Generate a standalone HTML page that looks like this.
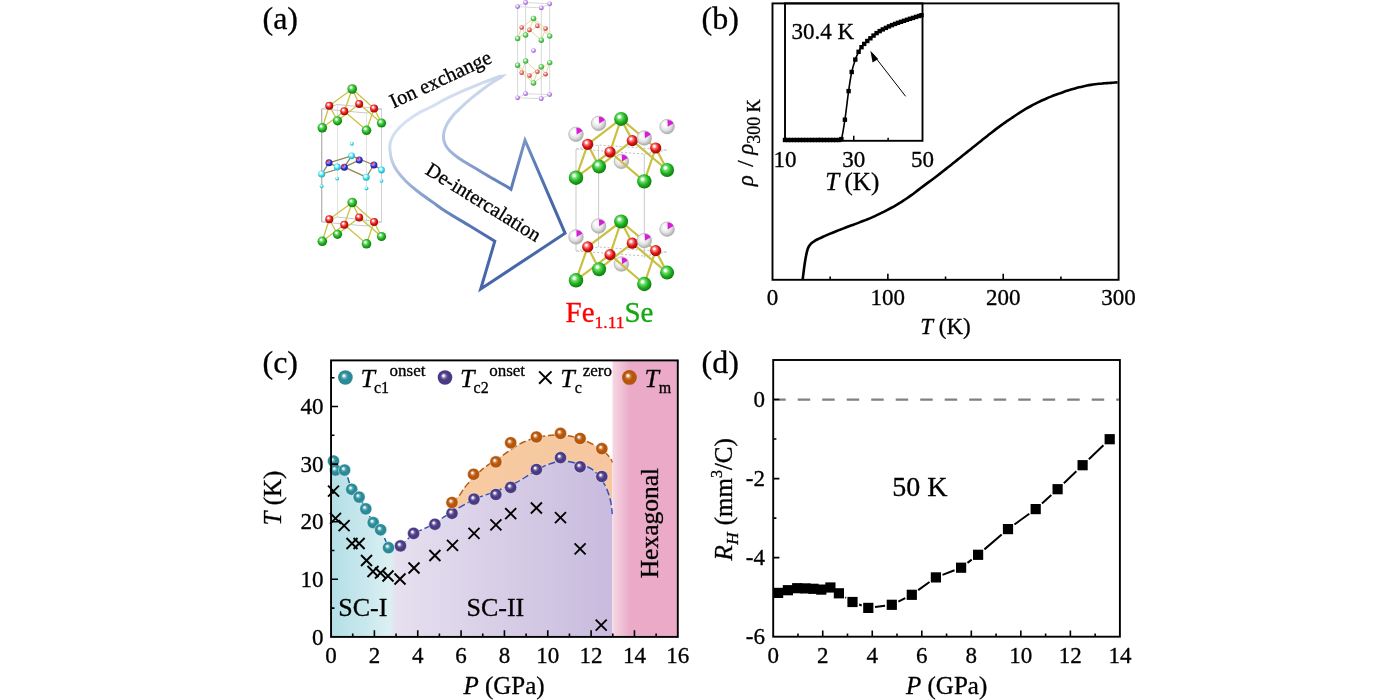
<!DOCTYPE html>
<html><head><meta charset="utf-8"><title>Figure</title><style>html,body{margin:0;padding:0;background:#fff;width:1400px;height:700px;overflow:hidden}svg{display:block;will-change:transform}text{stroke:#000;stroke-width:0.32px;stroke-linejoin:round}</style></head><body>
<svg width="1400" height="700" viewBox="0 0 1400 700" font-family='"Liberation Serif","Times New Roman",serif'><defs><radialGradient id="gTeal" cx="0.5" cy="0.5" r="0.55" fx="0.38" fy="0.36"><stop offset="0" stop-color="#ffffff"/><stop offset="0.1" stop-color="#f4f4f8"/><stop offset="0.3" stop-color="#5aaab4"/><stop offset="0.5" stop-color="#2a8b98"/><stop offset="0.88" stop-color="#2a8b98"/><stop offset="1" stop-color="#1d7280"/></radialGradient><radialGradient id="gPur" cx="0.5" cy="0.5" r="0.55" fx="0.38" fy="0.36"><stop offset="0" stop-color="#ffffff"/><stop offset="0.1" stop-color="#f4f4f8"/><stop offset="0.3" stop-color="#7a6caa"/><stop offset="0.5" stop-color="#4a3a83"/><stop offset="0.88" stop-color="#4a3a83"/><stop offset="1" stop-color="#38296c"/></radialGradient><radialGradient id="gOra" cx="0.5" cy="0.5" r="0.55" fx="0.38" fy="0.36"><stop offset="0" stop-color="#ffffff"/><stop offset="0.1" stop-color="#f4f4f8"/><stop offset="0.3" stop-color="#d08040"/><stop offset="0.5" stop-color="#b6560b"/><stop offset="0.88" stop-color="#b6560b"/><stop offset="1" stop-color="#964506"/></radialGradient><radialGradient id="gGrn" cx="0.45" cy="0.42" r="0.6" fx="0.36" fy="0.33"><stop offset="0" stop-color="#ffffff"/><stop offset="0.12" stop-color="#ffffff" stop-opacity="0.95"/><stop offset="0.3" stop-color="#70e070"/><stop offset="0.62" stop-color="#22b222"/><stop offset="1" stop-color="#0a760a"/></radialGradient><radialGradient id="gRed" cx="0.45" cy="0.42" r="0.6" fx="0.36" fy="0.33"><stop offset="0" stop-color="#ffffff"/><stop offset="0.12" stop-color="#ffffff" stop-opacity="0.95"/><stop offset="0.3" stop-color="#ff8080"/><stop offset="0.62" stop-color="#e01515"/><stop offset="1" stop-color="#990606"/></radialGradient><radialGradient id="gBlu" cx="0.45" cy="0.42" r="0.6" fx="0.36" fy="0.33"><stop offset="0" stop-color="#ffffff"/><stop offset="0.12" stop-color="#ffffff" stop-opacity="0.95"/><stop offset="0.3" stop-color="#9090ff"/><stop offset="0.62" stop-color="#3232c8"/><stop offset="1" stop-color="#1a1a90"/></radialGradient><radialGradient id="gCyn" cx="0.45" cy="0.42" r="0.6" fx="0.36" fy="0.33"><stop offset="0" stop-color="#ffffff"/><stop offset="0.12" stop-color="#ffffff" stop-opacity="0.95"/><stop offset="0.3" stop-color="#b0ffff"/><stop offset="0.62" stop-color="#40d8e6"/><stop offset="1" stop-color="#20a8b8"/></radialGradient><radialGradient id="gWht" cx="0.45" cy="0.42" r="0.6" fx="0.36" fy="0.33"><stop offset="0" stop-color="#ffffff"/><stop offset="0.12" stop-color="#ffffff" stop-opacity="0.95"/><stop offset="0.3" stop-color="#f8f8f8"/><stop offset="0.62" stop-color="#e2e2e2"/><stop offset="1" stop-color="#a6a6a6"/></radialGradient><radialGradient id="gVio" cx="0.45" cy="0.42" r="0.6" fx="0.36" fy="0.33"><stop offset="0" stop-color="#ffffff"/><stop offset="0.12" stop-color="#ffffff" stop-opacity="0.95"/><stop offset="0.3" stop-color="#ecd4ff"/><stop offset="0.62" stop-color="#bb86e6"/><stop offset="1" stop-color="#9058c0"/></radialGradient><radialGradient id="gGrnL" cx="0.45" cy="0.42" r="0.6" fx="0.36" fy="0.33"><stop offset="0" stop-color="#ffffff"/><stop offset="0.12" stop-color="#ffffff" stop-opacity="0.95"/><stop offset="0.3" stop-color="#a8eca8"/><stop offset="0.62" stop-color="#5cc85c"/><stop offset="1" stop-color="#2f9a2f"/></radialGradient><radialGradient id="gRedL" cx="0.45" cy="0.42" r="0.6" fx="0.36" fy="0.33"><stop offset="0" stop-color="#ffffff"/><stop offset="0.12" stop-color="#ffffff" stop-opacity="0.95"/><stop offset="0.3" stop-color="#ffb0b0"/><stop offset="0.62" stop-color="#e86060"/><stop offset="1" stop-color="#b83030"/></radialGradient><linearGradient id="lgCyan" x1="331" x2="394" y1="0" y2="0" gradientUnits="userSpaceOnUse"><stop offset="0" stop-color="#b3dfe6"/><stop offset="0.55" stop-color="#c9e8ed"/><stop offset="0.93" stop-color="#dcf0f3"/><stop offset="1" stop-color="#e0e8f0"/></linearGradient><linearGradient id="lgLav" x1="394" x2="612" y1="0" y2="0" gradientUnits="userSpaceOnUse"><stop offset="0" stop-color="#e6e0ef"/><stop offset="1" stop-color="#c8bbde"/></linearGradient><linearGradient id="lgOra" x1="450" x2="612" y1="0" y2="0" gradientUnits="userSpaceOnUse"><stop offset="0" stop-color="#f8cba2"/><stop offset="1" stop-color="#f6c7a0"/></linearGradient><linearGradient id="lgPink" x1="612.5" x2="630" y1="0" y2="0" gradientUnits="userSpaceOnUse"><stop offset="0" stop-color="#f6d8e4"/><stop offset="1" stop-color="#eaaac8"/></linearGradient><linearGradient id="lgArrow" x1="420" y1="100" x2="510" y2="230" gradientUnits="userSpaceOnUse"><stop offset="0" stop-color="#dde6f5"/><stop offset="0.15" stop-color="#ccd8ee"/><stop offset="0.4" stop-color="#9cb0d8"/><stop offset="0.73" stop-color="#6080bb"/><stop offset="1" stop-color="#4667a9"/></linearGradient><marker id="ah" viewBox="0 0 10 10" refX="9" refY="5" markerWidth="12" markerHeight="7" markerUnits="userSpaceOnUse" orient="auto"><path d="M0,0 L10,5 L0,10 z" fill="#000"/></marker></defs>
<text x="262.5" y="28.8" font-size="32" text-anchor="start" fill="#000" >(a)</text>
<g stroke-width="1" fill="none"><path d="M321.7,108.8 L321.7,222" stroke="#b4b4b4" stroke-width="1.3"/><path d="M381.5,108.8 L381.5,222" stroke="#d0d0d0"/><path d="M366.5,113 L366.5,226 M337.5,104.5 L337.5,217" stroke="#e2e2e2"/><path d="M321.7,108.8 L337.5,104.5 L381.5,108.8 L366.5,113 Z M321.7,222 L337.5,217 L381.5,222 L366.5,226 Z" stroke="#c8c8c8"/></g><line x1="352.2" y1="89" x2="329.3" y2="105.8" stroke="#c9c245" stroke-width="1.3" /><line x1="352.2" y1="89" x2="344.3" y2="111.3" stroke="#c9c245" stroke-width="1.3" /><line x1="352.2" y1="89" x2="359.2" y2="103.9" stroke="#c9c245" stroke-width="1.3" /><line x1="352.2" y1="89" x2="374.1" y2="108.5" stroke="#c9c245" stroke-width="1.3" /><line x1="329.3" y1="105.8" x2="322.3" y2="127.8" stroke="#c9c245" stroke-width="1.3" /><line x1="329.3" y1="105.8" x2="337.5" y2="120.8" stroke="#c9c245" stroke-width="1.3" /><line x1="344.3" y1="111.3" x2="322.3" y2="127.8" stroke="#c9c245" stroke-width="1.3" /><line x1="344.3" y1="111.3" x2="366.5" y2="130.3" stroke="#c9c245" stroke-width="1.3" /><line x1="359.2" y1="103.9" x2="337.5" y2="120.8" stroke="#c9c245" stroke-width="1.3" /><line x1="359.2" y1="103.9" x2="381.5" y2="123" stroke="#c9c245" stroke-width="1.3" /><line x1="374.1" y1="108.5" x2="366.5" y2="130.3" stroke="#c9c245" stroke-width="1.3" /><line x1="374.1" y1="108.5" x2="381.5" y2="123" stroke="#c9c245" stroke-width="1.3" /><circle cx="337.5" cy="120.8" r="4.6" fill="url(#gGrn)"/><circle cx="381.5" cy="123" r="4.6" fill="url(#gGrn)"/><circle cx="329.3" cy="105.8" r="4" fill="url(#gRed)"/><circle cx="344.3" cy="111.3" r="4" fill="url(#gRed)"/><circle cx="359.2" cy="103.9" r="4" fill="url(#gRed)"/><circle cx="374.1" cy="108.5" r="4" fill="url(#gRed)"/><circle cx="352.2" cy="89" r="4.8" fill="url(#gGrn)"/><circle cx="322.3" cy="127.8" r="4.8" fill="url(#gGrn)"/><circle cx="366.5" cy="130.3" r="4.8" fill="url(#gGrn)"/><line x1="352.2" y1="202.5" x2="329.3" y2="219.3" stroke="#c9c245" stroke-width="1.3" /><line x1="352.2" y1="202.5" x2="344.3" y2="224.8" stroke="#c9c245" stroke-width="1.3" /><line x1="352.2" y1="202.5" x2="359.2" y2="217.4" stroke="#c9c245" stroke-width="1.3" /><line x1="352.2" y1="202.5" x2="374.1" y2="222" stroke="#c9c245" stroke-width="1.3" /><line x1="329.3" y1="219.3" x2="322.3" y2="241.3" stroke="#c9c245" stroke-width="1.3" /><line x1="329.3" y1="219.3" x2="337.5" y2="234.3" stroke="#c9c245" stroke-width="1.3" /><line x1="344.3" y1="224.8" x2="322.3" y2="241.3" stroke="#c9c245" stroke-width="1.3" /><line x1="344.3" y1="224.8" x2="366.5" y2="243.8" stroke="#c9c245" stroke-width="1.3" /><line x1="359.2" y1="217.4" x2="337.5" y2="234.3" stroke="#c9c245" stroke-width="1.3" /><line x1="359.2" y1="217.4" x2="381.5" y2="236.5" stroke="#c9c245" stroke-width="1.3" /><line x1="374.1" y1="222" x2="366.5" y2="243.8" stroke="#c9c245" stroke-width="1.3" /><line x1="374.1" y1="222" x2="381.5" y2="236.5" stroke="#c9c245" stroke-width="1.3" /><circle cx="337.5" cy="234.3" r="4.6" fill="url(#gGrn)"/><circle cx="381.5" cy="236.5" r="4.6" fill="url(#gGrn)"/><circle cx="329.3" cy="219.3" r="4" fill="url(#gRed)"/><circle cx="344.3" cy="224.8" r="4" fill="url(#gRed)"/><circle cx="359.2" cy="217.4" r="4" fill="url(#gRed)"/><circle cx="374.1" cy="222" r="4" fill="url(#gRed)"/><circle cx="352.2" cy="202.5" r="4.8" fill="url(#gGrn)"/><circle cx="322.3" cy="241.3" r="4.8" fill="url(#gGrn)"/><circle cx="366.5" cy="243.8" r="4.8" fill="url(#gGrn)"/><line x1="329" y1="162.8" x2="351.6" y2="155.8" stroke="#8c8a58" stroke-width="1.3" /><line x1="321.7" y1="174" x2="329" y2="162.8" stroke="#8c8a58" stroke-width="1.3" /><line x1="321.7" y1="174" x2="344.3" y2="167.2" stroke="#8c8a58" stroke-width="1.3" /><line x1="344.3" y1="167.2" x2="351.6" y2="155.8" stroke="#8c8a58" stroke-width="1.3" /><line x1="344.3" y1="167.2" x2="366.2" y2="177.2" stroke="#8c8a58" stroke-width="1.3" /><line x1="351.6" y1="155.8" x2="373.9" y2="165" stroke="#8c8a58" stroke-width="1.3" /><line x1="344.3" y1="167.2" x2="359.2" y2="160.1" stroke="#8c8a58" stroke-width="1.3" /><line x1="366.2" y1="177.2" x2="373.9" y2="165" stroke="#8c8a58" stroke-width="1.3" /><line x1="329" y1="162.8" x2="337.2" y2="167" stroke="#8c8a58" stroke-width="1.3" /><line x1="373.9" y1="165" x2="381.5" y2="170" stroke="#8c8a58" stroke-width="1.3" /><circle cx="351.9" cy="143.8" r="2" fill="url(#gCyn)"/><circle cx="351.6" cy="155.8" r="3.4" fill="url(#gCyn)"/><circle cx="337.2" cy="167" r="3.4" fill="url(#gCyn)"/><circle cx="381.5" cy="170" r="3.4" fill="url(#gCyn)"/><circle cx="329" cy="162.8" r="3.5" fill="url(#gBlu)"/><path d="M329,162.8 L328.4,159.6 A3.2,3.2 0 0 0 326,161.6 Z" fill="#e82020"/><circle cx="344.3" cy="167.2" r="3.5" fill="url(#gBlu)"/><path d="M344.3,167.2 L343.7,164 A3.2,3.2 0 0 0 341.3,166 Z" fill="#e82020"/><circle cx="359.2" cy="160.1" r="3.5" fill="url(#gBlu)"/><path d="M359.2,160.1 L358.6,156.9 A3.2,3.2 0 0 0 356.2,158.9 Z" fill="#e82020"/><circle cx="373.9" cy="165" r="3.5" fill="url(#gBlu)"/><path d="M373.9,165 L373.3,161.8 A3.2,3.2 0 0 0 370.9,163.8 Z" fill="#e82020"/><circle cx="321.7" cy="174" r="3.5" fill="url(#gCyn)"/><circle cx="366.2" cy="177.2" r="3.5" fill="url(#gCyn)"/><circle cx="337.2" cy="178.6" r="1.9" fill="url(#gCyn)"/><circle cx="321.7" cy="186.2" r="1.9" fill="url(#gCyn)"/><circle cx="366.5" cy="188.4" r="1.9" fill="url(#gCyn)"/><circle cx="381.5" cy="180.8" r="1.9" fill="url(#gCyn)"/>
<g stroke="#d8d8d8" stroke-width="1" fill="none"><path d="M517.6,6.6 L517.6,97.8 M525.6,2.5 L525.6,93.7 M541.3,7.9 L541.3,98.7 M549.7,3.8 L549.7,94.6"/><path d="M517.6,6.6 L525.6,2.5 L549.7,3.8 L541.3,7.9 Z M517.6,97.8 L525.6,93.7 L549.7,94.6 L541.3,98.7 Z"/></g><line x1="533.5" y1="18.5" x2="521.7" y2="27.5" stroke="#d8d080" stroke-width="0.8" /><line x1="533.5" y1="18.5" x2="529.5" y2="29.9" stroke="#d8d080" stroke-width="0.8" /><line x1="533.5" y1="18.5" x2="537.4" y2="25.9" stroke="#d8d080" stroke-width="0.8" /><line x1="533.5" y1="18.5" x2="545.6" y2="28.6" stroke="#d8d080" stroke-width="0.8" /><line x1="521.7" y1="27.5" x2="517.6" y2="38.5" stroke="#d8d080" stroke-width="0.8" /><line x1="521.7" y1="27.5" x2="525.6" y2="35" stroke="#d8d080" stroke-width="0.8" /><line x1="529.5" y1="29.9" x2="517.6" y2="38.5" stroke="#d8d080" stroke-width="0.8" /><line x1="529.5" y1="29.9" x2="541.3" y2="40.2" stroke="#d8d080" stroke-width="0.8" /><line x1="537.4" y1="25.9" x2="525.6" y2="35" stroke="#d8d080" stroke-width="0.8" /><line x1="537.4" y1="25.9" x2="549.7" y2="36.1" stroke="#d8d080" stroke-width="0.8" /><line x1="545.6" y1="28.6" x2="541.3" y2="40.2" stroke="#d8d080" stroke-width="0.8" /><line x1="545.6" y1="28.6" x2="549.7" y2="36.1" stroke="#d8d080" stroke-width="0.8" /><circle cx="517.6" cy="38.5" r="2.7" fill="url(#gGrnL)"/><circle cx="525.6" cy="35" r="2.7" fill="url(#gGrnL)"/><circle cx="541.3" cy="40.2" r="2.7" fill="url(#gGrnL)"/><circle cx="549.7" cy="36.1" r="2.7" fill="url(#gGrnL)"/><circle cx="521.7" cy="27.5" r="2.3" fill="url(#gRedL)"/><circle cx="529.5" cy="29.9" r="2.3" fill="url(#gRedL)"/><circle cx="537.4" cy="25.9" r="2.3" fill="url(#gRedL)"/><circle cx="545.6" cy="28.6" r="2.3" fill="url(#gRedL)"/><circle cx="533.5" cy="18.5" r="2.8" fill="url(#gGrnL)"/><line x1="533.5" y1="83" x2="521.7" y2="72.8" stroke="#d8d080" stroke-width="0.8" /><line x1="533.5" y1="83" x2="529.5" y2="75.6" stroke="#d8d080" stroke-width="0.8" /><line x1="533.5" y1="83" x2="537.4" y2="71.8" stroke="#d8d080" stroke-width="0.8" /><line x1="533.5" y1="83" x2="545.6" y2="74.2" stroke="#d8d080" stroke-width="0.8" /><line x1="521.7" y1="72.8" x2="517.6" y2="65.2" stroke="#d8d080" stroke-width="0.8" /><line x1="521.7" y1="72.8" x2="525.6" y2="61" stroke="#d8d080" stroke-width="0.8" /><line x1="529.5" y1="75.6" x2="517.6" y2="65.2" stroke="#d8d080" stroke-width="0.8" /><line x1="529.5" y1="75.6" x2="541.3" y2="66.8" stroke="#d8d080" stroke-width="0.8" /><line x1="537.4" y1="71.8" x2="525.6" y2="61" stroke="#d8d080" stroke-width="0.8" /><line x1="537.4" y1="71.8" x2="549.7" y2="62.6" stroke="#d8d080" stroke-width="0.8" /><line x1="545.6" y1="74.2" x2="541.3" y2="66.8" stroke="#d8d080" stroke-width="0.8" /><line x1="545.6" y1="74.2" x2="549.7" y2="62.6" stroke="#d8d080" stroke-width="0.8" /><circle cx="517.6" cy="65.2" r="2.7" fill="url(#gGrnL)"/><circle cx="525.6" cy="61" r="2.7" fill="url(#gGrnL)"/><circle cx="541.3" cy="66.8" r="2.7" fill="url(#gGrnL)"/><circle cx="549.7" cy="62.6" r="2.7" fill="url(#gGrnL)"/><circle cx="521.7" cy="72.8" r="2.3" fill="url(#gRedL)"/><circle cx="529.5" cy="75.6" r="2.3" fill="url(#gRedL)"/><circle cx="537.4" cy="71.8" r="2.3" fill="url(#gRedL)"/><circle cx="545.6" cy="74.2" r="2.3" fill="url(#gRedL)"/><circle cx="533.5" cy="83" r="2.8" fill="url(#gGrnL)"/><circle cx="517.6" cy="6.6" r="2.4" fill="url(#gVio)"/><circle cx="525.6" cy="2.5" r="2.4" fill="url(#gVio)"/><circle cx="541.3" cy="7.9" r="2.4" fill="url(#gVio)"/><circle cx="549.7" cy="3.8" r="2.4" fill="url(#gVio)"/><circle cx="533.5" cy="50.6" r="2.4" fill="url(#gVio)"/><circle cx="517.6" cy="97.8" r="2.4" fill="url(#gVio)"/><circle cx="525.6" cy="93.7" r="2.4" fill="url(#gVio)"/><circle cx="541.3" cy="98.7" r="2.4" fill="url(#gVio)"/><circle cx="549.7" cy="94.6" r="2.4" fill="url(#gVio)"/>
<path d="M502,76.3 C501.18,76.43 500.05,76.12 497.1,77.1 C494.15,78.08 488.58,80.48 484.3,82.2 C480.02,83.92 475.68,85.63 471.4,87.4 C467.12,89.17 462.88,90.88 458.6,92.8 C454.32,94.72 449.98,96.7 445.7,98.9 C441.42,101.1 437.23,103.75 432.9,106 C428.57,108.25 424.28,109.72 419.7,112.4 C415.12,115.08 409.45,118.82 405.4,122.1 C401.35,125.38 397.9,128.77 395.4,132.1 C392.9,135.43 391.3,139 390.4,142.1 C389.5,145.2 389.75,147.6 390,150.7 C390.25,153.8 390.75,157.37 391.9,160.7 C393.05,164.03 394.65,167.37 396.9,170.7 C399.15,174.03 402.07,177.37 405.4,180.7 C408.73,184.03 412.37,187.13 416.9,190.7 C421.43,194.27 427.58,198.5 432.6,202.1 C437.62,205.7 440.77,208.32 447,212.3 C453.23,216.28 462.03,221.18 470,226 C477.97,230.82 490.67,238.67 494.8,241.2 L480.7,289 L565.1,233.3 L525,140.2 L511,189.3 C510,188.58 508.5,187.53 505,185.5 C501.5,183.47 495,179.92 490,177 C485,174.08 480,171 475,168 C470,165 464.17,161.83 460,159 C455.83,156.17 452.5,153.5 450,151 C447.5,148.5 446.08,146.67 445,144 C443.92,141.33 443.25,138.17 443.5,135 C443.75,131.83 444.85,128.33 446.5,125 C448.15,121.67 451.38,117.53 453.4,115 C455.42,112.47 456.13,112.17 458.6,109.8 C461.07,107.43 465,103.58 468.2,100.8 C471.4,98.02 474.05,95.98 477.8,93.1 C481.55,90.22 486.95,86.07 490.7,83.5 C494.45,80.93 498.42,78.9 500.3,77.7 C502.18,76.5 501.72,76.53 502,76.3 Z" fill="none" stroke="url(#lgArrow)" stroke-width="3" stroke-linejoin="miter"/>
<text x="0" y="0" font-size="20.5" text-anchor="start" fill="#000" transform="translate(393.5,108.5) rotate(-25)">Ion exchange</text>
<text x="0" y="0" font-size="20.2" text-anchor="start" fill="#000" transform="translate(424.3,173.2) rotate(31.8)">De-intercalation</text>
<g stroke="#bdbdbd" stroke-width="1" fill="none"><path d="M576,149 L576,251 M644.3,154 L644.3,258 M598.6,145 L598.6,247" stroke-opacity="0.8"/><path d="M576,149 L598.6,145 L667.1,150 L644.3,154 Z" stroke-dasharray="2 2"/><path d="M576,251 L598.6,247 L667.1,252 L644.3,256 Z" stroke-dasharray="2 2"/></g><circle cx="598.6" cy="123.4" r="7.3" fill="url(#gWht)" stroke="#a8a8a8" stroke-width="0.6"/><path d="M599.2,123.6 L598.96,116.82 A6.79,6.79 0 0 1 604.96,120 Z" fill="#d81cd8"/><circle cx="576" cy="134.3" r="7.3" fill="url(#gWht)" stroke="#a8a8a8" stroke-width="0.6"/><path d="M576.6,134.5 L576.36,127.72 A6.79,6.79 0 0 1 582.36,130.9 Z" fill="#d81cd8"/><circle cx="667.1" cy="126.6" r="7.3" fill="url(#gWht)" stroke="#a8a8a8" stroke-width="0.6"/><path d="M667.7,126.8 L667.46,120.02 A6.79,6.79 0 0 1 673.46,123.2 Z" fill="#d81cd8"/><circle cx="621.4" cy="161.4" r="7.3" fill="url(#gWht)" stroke="#a8a8a8" stroke-width="0.6"/><path d="M622,161.6 L621.76,154.82 A6.79,6.79 0 0 1 627.76,158 Z" fill="#d81cd8"/><line x1="621.1" y1="118.9" x2="587.7" y2="144.3" stroke="#c8c040" stroke-width="2.2" /><line x1="621.1" y1="118.9" x2="610" y2="152" stroke="#c8c040" stroke-width="2.2" /><line x1="621.1" y1="118.9" x2="632.3" y2="140.6" stroke="#c8c040" stroke-width="2.2" /><line x1="621.1" y1="118.9" x2="655.7" y2="148" stroke="#c8c040" stroke-width="2.2" /><line x1="587.7" y1="144.3" x2="576" y2="177.7" stroke="#c8c040" stroke-width="2.2" /><line x1="587.7" y1="144.3" x2="599.1" y2="166.6" stroke="#c8c040" stroke-width="2.2" /><line x1="610" y1="152" x2="576" y2="177.7" stroke="#c8c040" stroke-width="2.2" /><line x1="610" y1="152" x2="644.3" y2="181.4" stroke="#c8c040" stroke-width="2.2" /><line x1="632.3" y1="140.6" x2="599.1" y2="166.6" stroke="#c8c040" stroke-width="2.2" /><line x1="632.3" y1="140.6" x2="667.1" y2="170" stroke="#c8c040" stroke-width="2.2" /><line x1="655.7" y1="148" x2="644.3" y2="181.4" stroke="#c8c040" stroke-width="2.2" /><line x1="655.7" y1="148" x2="667.1" y2="170" stroke="#c8c040" stroke-width="2.2" /><circle cx="599.1" cy="166.6" r="7" fill="url(#gGrn)"/><circle cx="667.1" cy="170" r="7" fill="url(#gGrn)"/><circle cx="621.1" cy="118.9" r="7" fill="url(#gGrn)"/><circle cx="587.7" cy="144.3" r="5.6" fill="url(#gRed)"/><circle cx="610" cy="152" r="5.6" fill="url(#gRed)"/><circle cx="632.3" cy="140.6" r="5.6" fill="url(#gRed)"/><circle cx="655.7" cy="148" r="5.6" fill="url(#gRed)"/><circle cx="644.3" cy="138" r="7.3" fill="url(#gWht)" stroke="#a8a8a8" stroke-width="0.6"/><path d="M644.9,138.2 L644.66,131.42 A6.79,6.79 0 0 1 650.66,134.6 Z" fill="#d81cd8"/><circle cx="576" cy="177.7" r="7.2" fill="url(#gGrn)"/><circle cx="644.3" cy="181.4" r="7.2" fill="url(#gGrn)"/><circle cx="598.6" cy="226" r="7.3" fill="url(#gWht)" stroke="#a8a8a8" stroke-width="0.6"/><path d="M599.2,226.2 L598.96,219.42 A6.79,6.79 0 0 1 604.96,222.6 Z" fill="#d81cd8"/><circle cx="576" cy="236.9" r="7.3" fill="url(#gWht)" stroke="#a8a8a8" stroke-width="0.6"/><path d="M576.6,237.1 L576.36,230.32 A6.79,6.79 0 0 1 582.36,233.5 Z" fill="#d81cd8"/><circle cx="667.1" cy="229.2" r="7.3" fill="url(#gWht)" stroke="#a8a8a8" stroke-width="0.6"/><path d="M667.7,229.4 L667.46,222.62 A6.79,6.79 0 0 1 673.46,225.8 Z" fill="#d81cd8"/><circle cx="621.4" cy="264" r="7.3" fill="url(#gWht)" stroke="#a8a8a8" stroke-width="0.6"/><path d="M622,264.2 L621.76,257.42 A6.79,6.79 0 0 1 627.76,260.6 Z" fill="#d81cd8"/><line x1="621.1" y1="221.5" x2="587.7" y2="246.9" stroke="#c8c040" stroke-width="2.2" /><line x1="621.1" y1="221.5" x2="610" y2="254.6" stroke="#c8c040" stroke-width="2.2" /><line x1="621.1" y1="221.5" x2="632.3" y2="243.2" stroke="#c8c040" stroke-width="2.2" /><line x1="621.1" y1="221.5" x2="655.7" y2="250.6" stroke="#c8c040" stroke-width="2.2" /><line x1="587.7" y1="246.9" x2="576" y2="280.3" stroke="#c8c040" stroke-width="2.2" /><line x1="587.7" y1="246.9" x2="599.1" y2="269.2" stroke="#c8c040" stroke-width="2.2" /><line x1="610" y1="254.6" x2="576" y2="280.3" stroke="#c8c040" stroke-width="2.2" /><line x1="610" y1="254.6" x2="644.3" y2="284" stroke="#c8c040" stroke-width="2.2" /><line x1="632.3" y1="243.2" x2="599.1" y2="269.2" stroke="#c8c040" stroke-width="2.2" /><line x1="632.3" y1="243.2" x2="667.1" y2="272.6" stroke="#c8c040" stroke-width="2.2" /><line x1="655.7" y1="250.6" x2="644.3" y2="284" stroke="#c8c040" stroke-width="2.2" /><line x1="655.7" y1="250.6" x2="667.1" y2="272.6" stroke="#c8c040" stroke-width="2.2" /><circle cx="599.1" cy="269.2" r="7" fill="url(#gGrn)"/><circle cx="667.1" cy="272.6" r="7" fill="url(#gGrn)"/><circle cx="621.1" cy="221.5" r="7" fill="url(#gGrn)"/><circle cx="587.7" cy="246.9" r="5.6" fill="url(#gRed)"/><circle cx="610" cy="254.6" r="5.6" fill="url(#gRed)"/><circle cx="632.3" cy="243.2" r="5.6" fill="url(#gRed)"/><circle cx="655.7" cy="250.6" r="5.6" fill="url(#gRed)"/><circle cx="644.3" cy="240.6" r="7.3" fill="url(#gWht)" stroke="#a8a8a8" stroke-width="0.6"/><path d="M644.9,240.8 L644.66,234.02 A6.79,6.79 0 0 1 650.66,237.2 Z" fill="#d81cd8"/><circle cx="576" cy="280.3" r="7.2" fill="url(#gGrn)"/><circle cx="644.3" cy="284" r="7.2" fill="url(#gGrn)"/>
<text x="565.5" y="322" font-size="29" fill="#ff0000" style="stroke:#ff0000">Fe<tspan font-size="17.5" dy="6">1.11</tspan><tspan fill="#14a814" style="stroke:#14a814" font-size="29" dy="-6">Se</tspan></text>
<text x="701.6" y="29" font-size="32" text-anchor="start" fill="#000" >(b)</text>
<rect x="772.5" y="3.4" width="346.1" height="276.4" stroke="#000" stroke-width="1.9" fill="none"/>
<path d="M830.18,279.8 L830.18,276.6 M887.87,279.8 L887.87,273.8 M945.55,279.8 L945.55,276.6 M1003.23,279.8 L1003.23,273.8 M1060.92,279.8 L1060.92,276.6" stroke="#000" stroke-width="1.6"/>
<text x="772.5" y="304.5" font-size="23" text-anchor="middle" fill="#000" >0</text>
<text x="887.87" y="304.5" font-size="23" text-anchor="middle" fill="#000" >100</text>
<text x="1003.23" y="304.5" font-size="23" text-anchor="middle" fill="#000" >200</text>
<text x="1118.6" y="304.5" font-size="23" text-anchor="middle" fill="#000" >300</text>
<text x="945.5" y="334" font-size="23" text-anchor="middle"><tspan font-style="italic">T</tspan> (K)</text>
<text transform="translate(752.5,186.3) rotate(-90)" font-size="23"><tspan font-style="italic" x="0">ρ</tspan><tspan x="19.5">/</tspan><tspan font-style="italic" x="31.5">ρ</tspan><tspan font-size="18" dy="7">300 K</tspan></text>
<path d="M802.6,280 C803,276.95 804.15,266.87 805,261.7 C805.85,256.53 806.7,252 807.7,249 C808.7,246 809.78,245.08 811,243.7 C812.22,242.32 813.67,241.53 815,240.7 C816.33,239.87 817.67,239.35 819,238.7 C820.33,238.05 821.67,237.41 823,236.8 C824.33,236.18 825.67,235.6 827,235.02 C828.33,234.44 829.67,233.89 831,233.34 C832.33,232.79 833.67,232.26 835,231.72 C836.33,231.19 837.67,230.66 839,230.14 C840.33,229.62 841.67,229.1 843,228.59 C844.33,228.08 845.67,227.58 847,227.08 C848.33,226.58 849.67,226.08 851,225.58 C852.33,225.09 853.67,224.6 855,224.1 C856.33,223.6 857.67,223.1 859,222.6 C860.33,222.1 861.67,221.6 863,221.08 C864.33,220.56 865.67,220.04 867,219.51 C868.33,218.97 869.67,218.42 871,217.84 C872.33,217.27 873.67,216.68 875,216.07 C876.33,215.46 877.67,214.82 879,214.18 C880.33,213.53 881.67,212.87 883,212.2 C884.33,211.52 885.67,210.84 887,210.14 C888.33,209.44 889.67,208.73 891,208.01 C892.33,207.28 893.67,206.54 895,205.77 C896.33,205.01 897.67,204.22 899,203.41 C900.33,202.6 901.67,201.77 903,200.9 C904.33,200.04 905.67,199.15 907,198.23 C908.33,197.32 909.67,196.37 911,195.4 C912.33,194.44 913.67,193.44 915,192.44 C916.33,191.44 917.67,190.42 919,189.41 C920.33,188.4 921.67,187.39 923,186.39 C924.33,185.39 925.67,184.4 927,183.4 C928.33,182.41 929.67,181.42 931,180.43 C932.33,179.43 933.67,178.44 935,177.43 C936.33,176.42 937.67,175.4 939,174.37 C940.33,173.35 941.67,172.31 943,171.26 C944.33,170.21 945.67,169.16 947,168.1 C948.33,167.05 949.67,165.98 951,164.92 C952.33,163.86 953.67,162.79 955,161.73 C956.33,160.66 957.67,159.6 959,158.53 C960.33,157.46 961.67,156.4 963,155.33 C964.33,154.26 965.67,153.2 967,152.13 C968.33,151.06 969.67,150 971,148.93 C972.33,147.87 973.67,146.8 975,145.74 C976.33,144.67 977.67,143.61 979,142.55 C980.33,141.48 981.67,140.42 983,139.35 C984.33,138.29 985.67,137.22 987,136.16 C988.33,135.1 989.67,134.03 991,132.98 C992.33,131.93 993.67,130.88 995,129.86 C996.33,128.83 997.67,127.82 999,126.84 C1000.33,125.86 1001.67,124.91 1003,123.96 C1004.33,123.02 1005.67,122.11 1007,121.19 C1008.33,120.27 1009.67,119.37 1011,118.46 C1012.33,117.56 1013.67,116.65 1015,115.76 C1016.33,114.86 1017.67,113.98 1019,113.12 C1020.33,112.26 1021.67,111.42 1023,110.6 C1024.33,109.79 1025.67,109 1027,108.23 C1028.33,107.46 1029.67,106.72 1031,105.99 C1032.33,105.26 1033.67,104.55 1035,103.86 C1036.33,103.17 1037.67,102.5 1039,101.85 C1040.33,101.2 1041.67,100.58 1043,99.97 C1044.33,99.37 1045.67,98.79 1047,98.23 C1048.33,97.66 1049.67,97.12 1051,96.6 C1052.33,96.07 1053.67,95.56 1055,95.06 C1056.33,94.56 1057.67,94.08 1059,93.6 C1060.33,93.12 1061.67,92.65 1063,92.2 C1064.33,91.74 1065.67,91.28 1067,90.85 C1068.33,90.41 1069.67,89.99 1071,89.58 C1072.33,89.17 1073.67,88.78 1075,88.41 C1076.33,88.04 1077.67,87.68 1079,87.35 C1080.33,87.01 1081.67,86.69 1083,86.4 C1084.33,86.1 1085.67,85.82 1087,85.57 C1088.33,85.31 1089.67,85.07 1091,84.86 C1092.33,84.64 1093.67,84.44 1095,84.27 C1096.33,84.09 1097.67,83.93 1099,83.79 C1100.33,83.65 1101.67,83.53 1103,83.41 C1104.33,83.3 1105.67,83.2 1107,83.1 C1108.33,83 1109.67,82.91 1111,82.83 C1112.33,82.74 1113.9,82.63 1115,82.56 C1116.1,82.49 1117.17,82.43 1117.6,82.4" stroke="#000" stroke-width="2.6" fill="none" stroke-linejoin="round"/>
<rect x="785.0" y="3.4" width="137.5" height="137.4" stroke="#000" stroke-width="1.9" fill="none"/>
<path d="M819.38,140.8 L819.38,137.8 M853.75,140.8 L853.75,135.8 M888.12,140.8 L888.12,137.8" stroke="#000" stroke-width="1.5"/>
<text x="785" y="167" font-size="23" text-anchor="middle" fill="#000" >10</text>
<text x="853.75" y="167" font-size="23" text-anchor="middle" fill="#000" >30</text>
<text x="922.5" y="167" font-size="23" text-anchor="middle" fill="#000" >50</text>
<text x="852.3" y="189.8" font-size="25" text-anchor="middle"><tspan font-style="italic">T</tspan><tspan dx="-1"> (K)</tspan></text>
<text x="791.5" y="38.6" font-size="23" text-anchor="start" fill="#000" >30.4 K</text>
<path d="M785,140 C787.5,140 795,140 800,140 C805,140 810,140 815,140 C820,140 826.17,140.02 830,140 C833.83,139.98 836.1,140.05 838,139.9 C839.9,139.75 840.25,142.47 841.4,139.1 C842.55,135.73 843.7,127.7 844.9,119.7 C846.1,111.7 847.47,99.05 848.6,91.1 C849.73,83.15 850.58,77.25 851.7,72 C852.82,66.75 854.15,62.97 855.3,59.6 C856.45,56.23 857.57,53.87 858.6,51.8 C859.63,49.73 860.57,48.52 861.5,47.2 C862.43,45.88 863.23,44.93 864.2,43.9 C865.17,42.87 866.27,41.93 867.3,41 C868.33,40.07 869.37,39.2 870.4,38.3 C871.43,37.4 872.47,36.47 873.5,35.6 C874.53,34.73 875.57,33.85 876.6,33.1 C877.63,32.35 878.67,31.72 879.7,31.1 C880.73,30.48 881.77,29.93 882.8,29.4 C883.83,28.87 884.87,28.4 885.9,27.9 C886.93,27.4 887.98,26.87 889,26.4 C890.02,25.93 891,25.52 892,25.1 C893,24.68 894,24.28 895,23.9 C896,23.52 897,23.15 898,22.8 C899,22.45 900,22.13 901,21.8 C902,21.47 903,21.13 904,20.8 C905,20.47 906,20.13 907,19.8 C908,19.47 909,19.12 910,18.8 C911,18.48 912,18.22 913,17.9 C914,17.58 915,17.22 916,16.9 C917,16.58 918.08,16.28 919,16 C919.92,15.72 921.08,15.33 921.5,15.2" stroke="#000" stroke-width="1.6" fill="none"/>
<g fill="#000"><rect x="782.8" y="137.8" width="4.4" height="4.4"/><rect x="785.8" y="137.8" width="4.4" height="4.4"/><rect x="788.8" y="137.8" width="4.4" height="4.4"/><rect x="791.8" y="137.8" width="4.4" height="4.4"/><rect x="794.8" y="137.8" width="4.4" height="4.4"/><rect x="797.8" y="137.8" width="4.4" height="4.4"/><rect x="800.8" y="137.8" width="4.4" height="4.4"/><rect x="803.8" y="137.8" width="4.4" height="4.4"/><rect x="806.8" y="137.8" width="4.4" height="4.4"/><rect x="809.8" y="137.8" width="4.4" height="4.4"/><rect x="812.8" y="137.8" width="4.4" height="4.4"/><rect x="815.8" y="137.8" width="4.4" height="4.4"/><rect x="818.8" y="137.8" width="4.4" height="4.4"/><rect x="821.8" y="137.8" width="4.4" height="4.4"/><rect x="824.8" y="137.8" width="4.4" height="4.4"/><rect x="827.8" y="137.8" width="4.4" height="4.4"/><rect x="830.8" y="137.8" width="4.4" height="4.4"/><rect x="833.8" y="137.8" width="4.4" height="4.4"/><rect x="836.8" y="137.8" width="4.4" height="4.4"/><rect x="839.2" y="136.9" width="4.4" height="4.4"/><rect x="842.7" y="117.5" width="4.4" height="4.4"/><rect x="846.4" y="88.9" width="4.4" height="4.4"/><rect x="849.5" y="69.8" width="4.4" height="4.4"/><rect x="853.1" y="57.4" width="4.4" height="4.4"/><rect x="856.4" y="49.6" width="4.4" height="4.4"/><rect x="859.3" y="45" width="4.4" height="4.4"/><rect x="862" y="41.7" width="4.4" height="4.4"/><rect x="865.1" y="38.8" width="4.4" height="4.4"/><rect x="868.2" y="36.1" width="4.4" height="4.4"/><rect x="871.3" y="33.4" width="4.4" height="4.4"/><rect x="874.4" y="30.9" width="4.4" height="4.4"/><rect x="877.5" y="28.9" width="4.4" height="4.4"/><rect x="880.6" y="27.2" width="4.4" height="4.4"/><rect x="883.7" y="25.7" width="4.4" height="4.4"/><rect x="886.8" y="24.2" width="4.4" height="4.4"/><rect x="889.8" y="22.9" width="4.4" height="4.4"/><rect x="892.8" y="21.7" width="4.4" height="4.4"/><rect x="895.8" y="20.6" width="4.4" height="4.4"/><rect x="898.8" y="19.6" width="4.4" height="4.4"/><rect x="901.8" y="18.6" width="4.4" height="4.4"/><rect x="904.8" y="17.6" width="4.4" height="4.4"/><rect x="907.8" y="16.6" width="4.4" height="4.4"/><rect x="910.8" y="15.7" width="4.4" height="4.4"/><rect x="913.8" y="14.7" width="4.4" height="4.4"/><rect x="916.8" y="13.8" width="4.4" height="4.4"/><rect x="919.3" y="13" width="4.4" height="4.4"/></g>
<line x1="905.6" y1="96.3" x2="872" y2="53" stroke="#000" stroke-width="1"/>
<path d="M870.4,50.7 L878.2,59 L872.6,62.6 Z" fill="#000"/>
<text x="262.5" y="372.6" font-size="32" text-anchor="start" fill="#000" >(c)</text>
<path d="M331,459 C331.42,459.33 332.75,459.15 333.5,461 C334.25,462.85 333.65,468.58 335.5,470.1 C337.35,471.62 341.9,466.9 344.6,470.1 C347.3,473.3 349.28,484.8 351.7,489.3 C354.12,493.8 356.75,493.83 359.1,497.1 C361.45,500.37 363.45,504.65 365.8,508.9 C368.15,513.15 370.73,519.12 373.2,522.6 C375.67,526.08 378.05,525.62 380.6,529.8 C383.15,533.98 386.1,544.33 388.5,547.7 C390.9,551.07 393.92,549.62 395,550 L395,636.9 L331.05,636.9 Z" fill="url(#lgCyan)"/>
<path d="M395,550 C395.9,549.32 397.3,548.57 400.4,545.9 C403.5,543.23 409.62,536.88 413.6,534 C417.58,531.12 420.75,530.38 424.3,528.6 C427.85,526.82 431.78,525.15 434.9,523.3 C438.02,521.45 440.15,519.42 443,517.5 C445.85,515.58 446.83,514.8 452,511.8 C457.17,508.8 467,502.8 474,499.5 C481,496.2 487.05,494.78 494,492 C500.95,489.22 509.47,485.9 515.7,482.8 C521.93,479.7 526.17,476.4 531.4,473.4 C536.63,470.4 541.87,466.85 547.1,464.8 C552.33,462.75 557.57,461.23 562.8,461.1 C568.03,460.97 573.78,462.73 578.5,464 C583.22,465.27 587.43,466.35 591.1,468.7 C594.77,471.05 597.88,474.7 600.5,478.1 C603.12,481.5 605.1,485.17 606.8,489.1 C608.5,493.03 609.78,497.52 610.7,501.7 C611.62,505.88 612.03,512.12 612.3,514.2 L612.3,636.9 L394,636.9 Z" fill="url(#lgLav)"/>
<path d="M447,507 C447.83,506.25 450.08,504.25 452,502.5 C453.92,500.75 456,499.48 458.5,496.5 C461,493.52 463,489.17 467,484.6 C471,480.03 476.77,473.82 482.5,469.1 C488.23,464.38 494.55,460.82 501.4,456.3 C508.25,451.78 515.98,445.43 523.6,442 C531.22,438.57 539.78,436.75 547.1,435.7 C554.42,434.65 560.95,434.78 567.5,435.7 C574.05,436.62 580.63,438.85 586.4,441.2 C592.17,443.55 598.17,447.05 602.1,449.8 C606.03,452.55 608.3,455.6 610,457.7 C611.7,459.8 611.92,461.62 612.3,462.4 L612.3,514.2 C612.03,512.12 611.62,505.88 610.7,501.7 C609.78,497.52 608.5,493.03 606.8,489.1 C605.1,485.17 603.12,481.5 600.5,478.1 C597.88,474.7 594.77,471.05 591.1,468.7 C587.43,466.35 583.22,465.27 578.5,464 C573.78,462.73 568.03,460.97 562.8,461.1 C557.57,461.23 552.33,462.75 547.1,464.8 C541.87,466.85 536.63,470.4 531.4,473.4 C526.17,476.4 521.93,479.7 515.7,482.8 C509.47,485.9 500.95,489.22 494,492 C487.05,494.78 481,496.2 474,499.5 C467,502.8 455.67,509.75 452,511.8 L447,507 Z" fill="url(#lgOra)"/>
<rect x="612.5" y="361" width="65.3" height="275.9" fill="url(#lgPink)"/>
<path d="M333.5,461 C333.83,462.52 333.65,468.58 335.5,470.1 C337.35,471.62 341.9,466.9 344.6,470.1 C347.3,473.3 349.28,484.8 351.7,489.3 C354.12,493.8 356.75,493.83 359.1,497.1 C361.45,500.37 363.45,504.65 365.8,508.9 C368.15,513.15 370.73,519.12 373.2,522.6 C375.67,526.08 378.05,525.62 380.6,529.8 C383.15,533.98 387.18,544.72 388.5,547.7" fill="none" stroke="#1f58a6" stroke-width="1.5" stroke-dasharray="6 3"/>
<path d="M400.4,545.9 C402.6,543.92 409.62,536.88 413.6,534 C417.58,531.12 420.75,530.38 424.3,528.6 C427.85,526.82 431.78,525.15 434.9,523.3 C438.02,521.45 440.15,519.42 443,517.5 C445.85,515.58 446.83,514.8 452,511.8 C457.17,508.8 467,502.8 474,499.5 C481,496.2 487.05,494.78 494,492 C500.95,489.22 509.47,485.9 515.7,482.8 C521.93,479.7 526.17,476.4 531.4,473.4 C536.63,470.4 541.87,466.85 547.1,464.8 C552.33,462.75 557.57,461.23 562.8,461.1 C568.03,460.97 573.78,462.73 578.5,464 C583.22,465.27 587.43,466.35 591.1,468.7 C594.77,471.05 597.88,474.7 600.5,478.1 C603.12,481.5 605.1,485.17 606.8,489.1 C608.5,493.03 609.78,497.52 610.7,501.7 C611.62,505.88 612.03,512.12 612.3,514.2" fill="none" stroke="#2f4fbf" stroke-width="1.4" stroke-dasharray="7 3"/>
<path d="M452,502.5 C453.08,501.5 456,499.48 458.5,496.5 C461,493.52 463,489.17 467,484.6 C471,480.03 476.77,473.82 482.5,469.1 C488.23,464.38 494.55,460.82 501.4,456.3 C508.25,451.78 515.98,445.43 523.6,442 C531.22,438.57 539.78,436.75 547.1,435.7 C554.42,434.65 560.95,434.78 567.5,435.7 C574.05,436.62 580.63,438.85 586.4,441.2 C592.17,443.55 598.17,447.05 602.1,449.8 C606.03,452.55 608.3,455.6 610,457.7 C611.7,459.8 611.92,461.62 612.3,462.4" fill="none" stroke="#b85a10" stroke-width="1.4" stroke-dasharray="7 3"/>
<path d="M328,485.7 L339,496.7 M328,496.7 L339,485.7" stroke="#000" stroke-width="1.9"/><path d="M330,512.9 L341,523.9 M330,523.9 L341,512.9" stroke="#000" stroke-width="1.9"/><path d="M338.6,520.2 L349.6,531.2 M338.6,531.2 L349.6,520.2" stroke="#000" stroke-width="1.9"/><path d="M346.5,538 L357.5,549 M346.5,549 L357.5,538" stroke="#000" stroke-width="1.9"/><path d="M353.6,538 L364.6,549 M353.6,549 L364.6,538" stroke="#000" stroke-width="1.9"/><path d="M361,555 L372,566 M361,566 L372,555" stroke="#000" stroke-width="1.9"/><path d="M367.5,566 L378.5,577 M367.5,577 L378.5,566" stroke="#000" stroke-width="1.9"/><path d="M375,567.5 L386,578.5 M375,578.5 L386,567.5" stroke="#000" stroke-width="1.9"/><path d="M382.5,570.5 L393.5,581.5 M382.5,581.5 L393.5,570.5" stroke="#000" stroke-width="1.9"/><path d="M394.5,573.5 L405.5,584.5 M394.5,584.5 L405.5,573.5" stroke="#000" stroke-width="1.9"/><path d="M408.5,562.5 L419.5,573.5 M408.5,573.5 L419.5,562.5" stroke="#000" stroke-width="1.9"/><path d="M429.4,550 L440.4,561 M429.4,561 L440.4,550" stroke="#000" stroke-width="1.9"/><path d="M447,539.9 L458,550.9 M447,550.9 L458,539.9" stroke="#000" stroke-width="1.9"/><path d="M468.5,527.9 L479.5,538.9 M468.5,538.9 L479.5,527.9" stroke="#000" stroke-width="1.9"/><path d="M490.4,519.3 L501.4,530.3 M490.4,530.3 L501.4,519.3" stroke="#000" stroke-width="1.9"/><path d="M505.2,508.1 L516.2,519.1 M505.2,519.1 L516.2,508.1" stroke="#000" stroke-width="1.9"/><path d="M530.9,502.5 L541.9,513.5 M530.9,513.5 L541.9,502.5" stroke="#000" stroke-width="1.9"/><path d="M555,512.2 L566,523.2 M555,523.2 L566,512.2" stroke="#000" stroke-width="1.9"/><path d="M574.6,543.3 L585.6,554.3 M574.6,554.3 L585.6,543.3" stroke="#000" stroke-width="1.9"/><path d="M595.7,619.7 L606.7,630.7 M595.7,630.7 L606.7,619.7" stroke="#000" stroke-width="1.9"/>
<circle cx="333.5" cy="461" r="6.1" fill="url(#gTeal)" stroke="#ffffff" stroke-opacity="0.6" stroke-width="0.8"/><circle cx="335.5" cy="470.1" r="6.1" fill="url(#gTeal)" stroke="#ffffff" stroke-opacity="0.6" stroke-width="0.8"/><circle cx="344.6" cy="470.1" r="6.1" fill="url(#gTeal)" stroke="#ffffff" stroke-opacity="0.6" stroke-width="0.8"/><circle cx="351.7" cy="489.3" r="6.1" fill="url(#gTeal)" stroke="#ffffff" stroke-opacity="0.6" stroke-width="0.8"/><circle cx="359.1" cy="497.1" r="6.1" fill="url(#gTeal)" stroke="#ffffff" stroke-opacity="0.6" stroke-width="0.8"/><circle cx="365.8" cy="508.9" r="6.1" fill="url(#gTeal)" stroke="#ffffff" stroke-opacity="0.6" stroke-width="0.8"/><circle cx="373.2" cy="522.6" r="6.1" fill="url(#gTeal)" stroke="#ffffff" stroke-opacity="0.6" stroke-width="0.8"/><circle cx="380.6" cy="529.8" r="6.1" fill="url(#gTeal)" stroke="#ffffff" stroke-opacity="0.6" stroke-width="0.8"/><circle cx="388.5" cy="547.7" r="6.1" fill="url(#gTeal)" stroke="#ffffff" stroke-opacity="0.6" stroke-width="0.8"/>
<circle cx="400.5" cy="545.9" r="6.1" fill="url(#gPur)" stroke="#ffffff" stroke-opacity="0.6" stroke-width="0.8"/><circle cx="413.6" cy="533.4" r="6.1" fill="url(#gPur)" stroke="#ffffff" stroke-opacity="0.6" stroke-width="0.8"/><circle cx="434.9" cy="524.3" r="6.1" fill="url(#gPur)" stroke="#ffffff" stroke-opacity="0.6" stroke-width="0.8"/><circle cx="452" cy="513.3" r="6.1" fill="url(#gPur)" stroke="#ffffff" stroke-opacity="0.6" stroke-width="0.8"/><circle cx="474" cy="499.1" r="6.1" fill="url(#gPur)" stroke="#ffffff" stroke-opacity="0.6" stroke-width="0.8"/><circle cx="495.9" cy="494.5" r="6.1" fill="url(#gPur)" stroke="#ffffff" stroke-opacity="0.6" stroke-width="0.8"/><circle cx="510.7" cy="487.4" r="6.1" fill="url(#gPur)" stroke="#ffffff" stroke-opacity="0.6" stroke-width="0.8"/><circle cx="536.4" cy="469.5" r="6.1" fill="url(#gPur)" stroke="#ffffff" stroke-opacity="0.6" stroke-width="0.8"/><circle cx="560.5" cy="457.7" r="6.1" fill="url(#gPur)" stroke="#ffffff" stroke-opacity="0.6" stroke-width="0.8"/><circle cx="580.1" cy="466.8" r="6.1" fill="url(#gPur)" stroke="#ffffff" stroke-opacity="0.6" stroke-width="0.8"/><circle cx="601.8" cy="476.5" r="6.1" fill="url(#gPur)" stroke="#ffffff" stroke-opacity="0.6" stroke-width="0.8"/>
<circle cx="452" cy="502.5" r="6.1" fill="url(#gOra)" stroke="#ffffff" stroke-opacity="0.6" stroke-width="0.8"/><circle cx="473.6" cy="474.3" r="6.1" fill="url(#gOra)" stroke="#ffffff" stroke-opacity="0.6" stroke-width="0.8"/><circle cx="495.9" cy="461.9" r="6.1" fill="url(#gOra)" stroke="#ffffff" stroke-opacity="0.6" stroke-width="0.8"/><circle cx="510.7" cy="442.8" r="6.1" fill="url(#gOra)" stroke="#ffffff" stroke-opacity="0.6" stroke-width="0.8"/><circle cx="536.4" cy="437" r="6.1" fill="url(#gOra)" stroke="#ffffff" stroke-opacity="0.6" stroke-width="0.8"/><circle cx="560.5" cy="433.4" r="6.1" fill="url(#gOra)" stroke="#ffffff" stroke-opacity="0.6" stroke-width="0.8"/><circle cx="580.1" cy="438.5" r="6.1" fill="url(#gOra)" stroke="#ffffff" stroke-opacity="0.6" stroke-width="0.8"/><circle cx="601.8" cy="448.7" r="6.1" fill="url(#gOra)" stroke="#ffffff" stroke-opacity="0.6" stroke-width="0.8"/>
<rect x="331.05" y="360.4" width="346.75" height="276.5" stroke="#000" stroke-width="1.9" fill="none"/>
<path d="M352.72,636.9 L352.72,633.6 M374.39,636.9 L374.39,630.3 M396.07,636.9 L396.07,633.6 M417.74,636.9 L417.74,630.3 M439.41,636.9 L439.41,633.6 M461.08,636.9 L461.08,630.3 M482.75,636.9 L482.75,633.6 M504.42,636.9 L504.42,630.3 M526.1,636.9 L526.1,633.6 M547.77,636.9 L547.77,630.3 M569.44,636.9 L569.44,633.6 M591.11,636.9 L591.11,630.3 M612.78,636.9 L612.78,633.6 M634.46,636.9 L634.46,630.3 M656.13,636.9 L656.13,633.6 M331.05,608.1 L334.45,608.1 M331.05,579.3 L338.05,579.3 M331.05,550.49 L334.45,550.49 M331.05,521.69 L338.05,521.69 M331.05,492.89 L334.45,492.89 M331.05,464.09 L338.05,464.09 M331.05,435.29 L334.45,435.29 M331.05,406.48 L338.05,406.48 M331.05,377.68 L334.45,377.68" stroke="#000" stroke-width="1.6"/>
<text x="331.05" y="662.9" font-size="23" text-anchor="middle" fill="#000" >0</text>
<text x="374.39" y="662.9" font-size="23" text-anchor="middle" fill="#000" >2</text>
<text x="417.74" y="662.9" font-size="23" text-anchor="middle" fill="#000" >4</text>
<text x="461.08" y="662.9" font-size="23" text-anchor="middle" fill="#000" >6</text>
<text x="504.42" y="662.9" font-size="23" text-anchor="middle" fill="#000" >8</text>
<text x="547.77" y="662.9" font-size="23" text-anchor="middle" fill="#000" >10</text>
<text x="591.11" y="662.9" font-size="23" text-anchor="middle" fill="#000" >12</text>
<text x="634.46" y="662.9" font-size="23" text-anchor="middle" fill="#000" >14</text>
<text x="677.8" y="662.9" font-size="23" text-anchor="middle" fill="#000" >16</text>
<text x="323.5" y="644.5" font-size="23" text-anchor="end" fill="#000" >0</text>
<text x="323.5" y="586.9" font-size="23" text-anchor="end" fill="#000" >10</text>
<text x="323.5" y="529.29" font-size="23" text-anchor="end" fill="#000" >20</text>
<text x="323.5" y="471.69" font-size="23" text-anchor="end" fill="#000" >30</text>
<text x="323.5" y="414.08" font-size="23" text-anchor="end" fill="#000" >40</text>
<text x="504" y="694.3" font-size="25" text-anchor="middle"><tspan font-style="italic">P</tspan> (GPa)</text>
<text transform="translate(281.3,498) rotate(-90)" font-size="25" text-anchor="middle"><tspan font-style="italic">T</tspan> (K)</text>
<text x="466.5" y="615.5" font-size="26" text-anchor="start" fill="#000" >SC-II</text>
<text x="338.2" y="615.5" font-size="26" text-anchor="start" fill="#000" >SC-I</text>
<text transform="translate(658.3,523.1) rotate(-90)" font-size="25.5" text-anchor="middle">Hexagonal</text>
<circle cx="345.4" cy="377.5" r="7.3" fill="url(#gTeal)"/>
<text x="360.5" y="386.5" font-size="26"><tspan font-style="italic">T</tspan><tspan font-size="16" dx="-1" dy="6.3">c1</tspan><tspan font-size="17" dx="0.5" dy="-16.8">onset</tspan></text>
<circle cx="445" cy="377.5" r="7.3" fill="url(#gPur)"/>
<text x="460.1" y="386.5" font-size="26"><tspan font-style="italic">T</tspan><tspan font-size="16" dx="-1" dy="6.3">c2</tspan><tspan font-size="17" dx="0.5" dy="-16.8">onset</tspan></text>
<path d="M539.1,371.4 L551.5,383.8 M539.1,383.8 L551.5,371.4" stroke="#000" stroke-width="2.0"/>
<text x="560.2" y="386.5" font-size="26"><tspan font-style="italic">T</tspan><tspan font-size="16" dy="6.3">c</tspan><tspan font-size="17" dx="1" dy="-16.8">zero</tspan></text>
<circle cx="629.4" cy="377.4" r="7.4" fill="url(#gOra)"/>
<text x="644.4" y="386.5" font-size="26"><tspan font-style="italic">T</tspan><tspan font-size="16" dy="6.3">m</tspan></text>
<text x="701.6" y="372.8" font-size="32" text-anchor="start" fill="#000" >(d)</text>
<line x1="773.2" y1="399.53" x2="1119.9" y2="399.53" stroke="#808080" stroke-width="2.2" stroke-dasharray="12.5 12"/>
<path d="M845.35,597.42 L846.05,597.88 M859.1,604.46 L861.7,605.44 M874.99,607.02 L885.11,605.68 M898.33,601.53 L905.27,598.07 M918.2,590.18 L929.5,582.02 M942.49,574.86 L954.51,570.24 M967.47,562.86 L971.73,559.64 M984.41,549.37 L1001.69,534.53 M1014.4,524.48 L1029.3,513.72 M1041.98,503.39 L1051.32,494.91 M1063.85,483.2 L1076.35,471.2 M1088.85,459.2 L1103.45,445.2" fill="none" stroke="#000" stroke-width="2"/>
<g fill="#000"><rect x="773" y="587.8" width="10.2" height="10.2"/><rect x="782.8" y="585.1" width="10.2" height="10.2"/><rect x="792.1" y="583.1" width="10.2" height="10.2"/><rect x="800.4" y="583.3" width="10.2" height="10.2"/><rect x="808.4" y="583.7" width="10.2" height="10.2"/><rect x="816.2" y="584.5" width="10.2" height="10.2"/><rect x="825.3" y="582.4" width="10.2" height="10.2"/><rect x="833.8" y="588.2" width="10.2" height="10.2"/><rect x="847.4" y="596.9" width="10.2" height="10.2"/><rect x="863.2" y="602.8" width="10.2" height="10.2"/><rect x="886.7" y="599.7" width="10.2" height="10.2"/><rect x="906.7" y="589.7" width="10.2" height="10.2"/><rect x="930.8" y="572.3" width="10.2" height="10.2"/><rect x="956" y="562.6" width="10.2" height="10.2"/><rect x="973" y="549.7" width="10.2" height="10.2"/><rect x="1002.9" y="524" width="10.2" height="10.2"/><rect x="1030.6" y="504" width="10.2" height="10.2"/><rect x="1052.5" y="484.1" width="10.2" height="10.2"/><rect x="1077.5" y="460.1" width="10.2" height="10.2"/><rect x="1104.6" y="434.1" width="10.2" height="10.2"/></g>
<rect x="773.2" y="360.0" width="346.7" height="276.7" stroke="#000" stroke-width="1.9" fill="none"/>
<path d="M797.96,636.7 L797.96,633.5 M822.73,636.7 L822.73,630.5 M847.49,636.7 L847.49,633.5 M872.26,636.7 L872.26,630.5 M897.02,636.7 L897.02,633.5 M921.79,636.7 L921.79,630.5 M946.55,636.7 L946.55,633.5 M971.31,636.7 L971.31,630.5 M996.08,636.7 L996.08,633.5 M1020.84,636.7 L1020.84,630.5 M1045.61,636.7 L1045.61,633.5 M1070.37,636.7 L1070.37,630.5 M1095.14,636.7 L1095.14,633.5 M773.2,597.17 L776.4,597.17 M773.2,557.64 L779.4,557.64 M773.2,518.11 L776.4,518.11 M773.2,478.59 L779.4,478.59 M773.2,439.06 L776.4,439.06 M773.2,399.53 L779.4,399.53" stroke="#000" stroke-width="1.6"/>
<text x="773.2" y="662.9" font-size="23" text-anchor="middle" fill="#000" >0</text>
<text x="822.73" y="662.9" font-size="23" text-anchor="middle" fill="#000" >2</text>
<text x="872.26" y="662.9" font-size="23" text-anchor="middle" fill="#000" >4</text>
<text x="921.79" y="662.9" font-size="23" text-anchor="middle" fill="#000" >6</text>
<text x="971.31" y="662.9" font-size="23" text-anchor="middle" fill="#000" >8</text>
<text x="1020.84" y="662.9" font-size="23" text-anchor="middle" fill="#000" >10</text>
<text x="1070.37" y="662.9" font-size="23" text-anchor="middle" fill="#000" >12</text>
<text x="1119.9" y="662.9" font-size="23" text-anchor="middle" fill="#000" >14</text>
<text x="765" y="407.13" font-size="23" text-anchor="end" fill="#000" >0</text>
<text x="765" y="486.19" font-size="23" text-anchor="end" fill="#000" >-2</text>
<text x="765" y="565.24" font-size="23" text-anchor="end" fill="#000" >-4</text>
<text x="765" y="644.3" font-size="23" text-anchor="end" fill="#000" >-6</text>
<text x="946.6" y="694.3" font-size="25" text-anchor="middle"><tspan font-style="italic">P</tspan> (GPa)</text>
<text transform="translate(731.5,560.4) rotate(-90)" font-size="25"><tspan font-style="italic">R</tspan><tspan font-style="italic" font-size="17" dx="0.4" dy="6.5">H</tspan><tspan dx="0.9" dy="-6.5"> (mm</tspan><tspan font-size="16" dy="-10">3</tspan><tspan dy="10">/C)</tspan></text>
<text x="892.3" y="495.7" font-size="28" text-anchor="start" fill="#000" >50 K</text></svg>
</body></html>
